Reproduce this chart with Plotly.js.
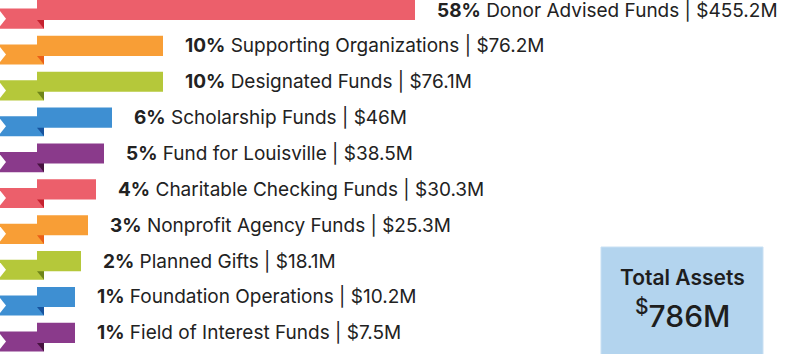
<!DOCTYPE html>
<html>
<head>
<meta charset="utf-8">
<script src="https://cdn.plot.ly/plotly-3.0.1.min.js"></script>
<style>
  html, body { margin: 0; padding: 0; background: #fff; }
  #chart { width: 800px; height: 354px; }
</style>
</head>
<body>
<div id="chart"></div>
<script>
// ---- Data ----
const categories = [
  "Donor Advised Funds", "Supporting Organizations", "Designated Funds",
  "Scholarship Funds", "Fund for Louisville", "Charitable Checking Funds",
  "Nonprofit Agency Funds", "Planned Gifts", "Foundation Operations",
  "Field of Interest Funds"
];
const percents = [58, 10, 10, 6, 5, 4, 3, 2, 1, 1];
const amounts = ["$455.2M", "$76.2M", "$76.1M", "$46M", "$38.5M", "$30.3M",
                 "$25.3M", "$18.1M", "$10.2M", "$7.5M"];
// ribbon length as drawn in the infographic (chart units)
const ribbonLength = [378, 126, 126, 75, 67, 59, 51, 44, 38, 38];
const totalLabel = "Total Assets";
const totalValue = "786M";

// ---- Styling ----
const palette = [
  {main: "#EC5F6B", dark: "#C5212F"},
  {main: "#F89E36", dark: "#EA5F18"},
  {main: "#B5C83A", dark: "#6F851A"},
  {main: "#3E8FD2", dark: "#17539E"},
  {main: "#8A3A8B", dark: "#46133F"}
];
const foldX = 37;        // where the ribbon's front part begins
const foldDepth = 7;     // how far the tail reaches under the front part
const barW = 0.56;       // bar thickness in row units
const tailDrop = 0.24;   // tail's downward offset in row units
const notch = 6;         // notch depth

const idx = categories.map((_, i) => i);
const mainColors = idx.map(i => palette[i % 5].main);

const tailTrace = {
  type: "bar", orientation: "h",
  y: idx, x: idx.map(() => foldX + foldDepth), base: idx.map(() => 0),
  width: barW, offset: -barW / 2 + tailDrop,
  marker: {color: mainColors, line: {width: 0}},
  hoverinfo: "skip"
};
const mainTrace = {
  type: "bar", orientation: "h",
  y: idx, x: ribbonLength, base: idx.map(() => foldX),
  width: barW,
  marker: {color: mainColors, line: {width: 0}},
  hoverinfo: "skip"
};

const shapes = [];
idx.forEach(i => {
  const top = i - barW / 2 + tailDrop, bot = i + barW / 2 + tailDrop;
  const mid = (top + bot) / 2;
  shapes.push({
    type: "path", xref: "x", yref: "y",
    path: `M -2,${top} L ${notch},${mid} L -2,${bot} Z`,
    fillcolor: "#ffffff", line: {width: 0}
  });
  const mb = i + barW / 2;
  shapes.push({
    type: "path", xref: "x", yref: "y",
    path: `M ${foldX},${mb} L ${foldX + foldDepth},${mb} L ${foldX + foldDepth},${bot} Z`,
    fillcolor: palette[i % 5].dark, line: {width: 0}
  });
});
// Total assets box
shapes.push({
  type: "rect", xref: "paper", yref: "paper",
  x0: 601 / 800, x1: 763 / 800, y0: -0.1, y1: (354 - 247) / 354,
  fillcolor: "#B3D4EE", line: {color: "#C9E0F3", width: 1}
});

const labelFont = "Inter, 'Open Sans', sans-serif";
const annotations = idx.map(i => ({
  x: foldX + ribbonLength[i], y: i, xref: "x", yref: "y",
  xanchor: "left", yanchor: "middle", xshift: 20, showarrow: false,
  text: `<b>${percents[i]}%</b> ${categories[i]} | ${amounts[i]}`,
  font: {family: labelFont, size: 19, color: "#222222"}
}));
annotations.push({
  x: 682 / 800, y: (354 - 277) / 354, xref: "paper", yref: "paper",
  xanchor: "center", yanchor: "middle", showarrow: false,
  text: totalLabel,
  font: {family: labelFont, size: 21, color: "#1E1E1E", weight: 600}
});
annotations.push({
  x: 682 / 800, y: (354 - 314) / 354, xref: "paper", yref: "paper",
  xanchor: "center", yanchor: "middle", showarrow: false,
  text: `<sup>$</sup>${totalValue}`,
  font: {family: labelFont, size: 30, color: "#1E1E1E", weight: 500}
});

const layout = {
  width: 800, height: 354,
  margin: {l: 0, r: 0, t: 0, b: 0, pad: 0},
  paper_bgcolor: "#ffffff", plot_bgcolor: "#ffffff",
  showlegend: false, barmode: "overlay",
  xaxis: {range: [0, 800], visible: false, fixedrange: true},
  yaxis: {range: [9.59, -0.28], visible: false, fixedrange: true},
  shapes: shapes, annotations: annotations
};

Plotly.newPlot("chart", [tailTrace, mainTrace], layout, {displayModeBar: false, staticPlot: true});
</script>
</body>
</html>
